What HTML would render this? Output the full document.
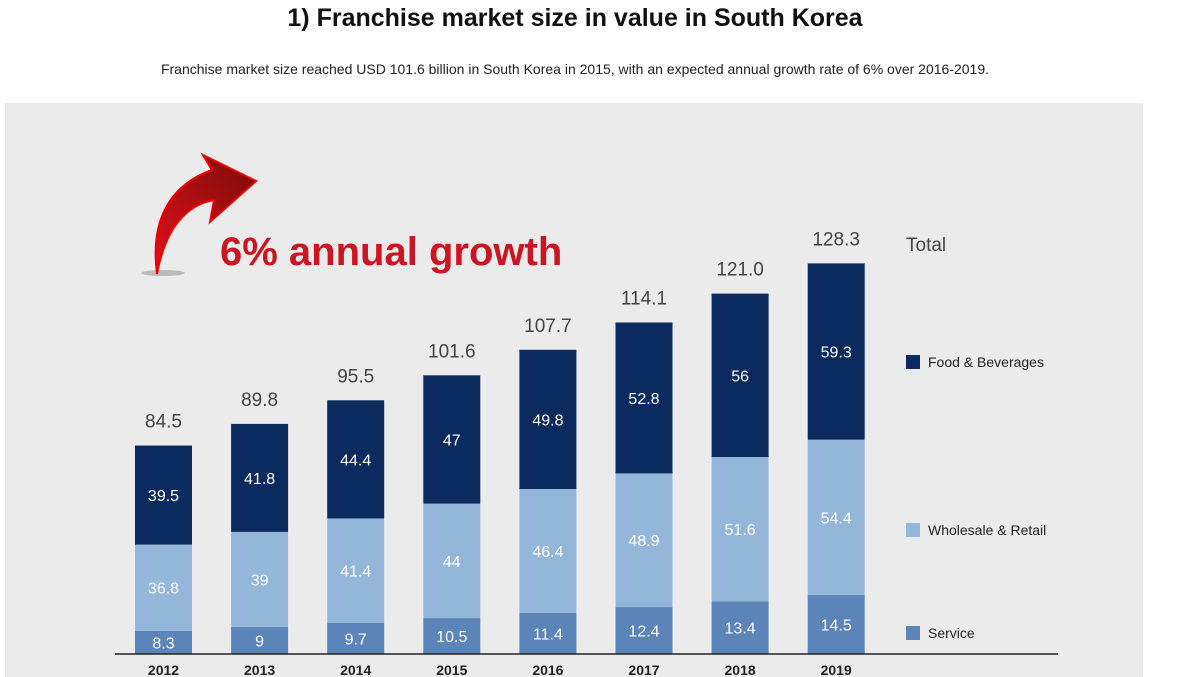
<!DOCTYPE html>
<html><head><meta charset="utf-8"><style>
body{margin:0;width:1192px;height:677px;background:#fff;overflow:hidden;font-family:"Liberation Sans",sans-serif}
#title{position:absolute;left:0;width:1150px;top:4px;text-align:center;font-size:25px;font-weight:bold;color:#111}
#sub{position:absolute;left:0;width:1150px;top:61px;text-align:center;font-size:14px;color:#222}
#panel{position:absolute;left:5px;top:103px;width:1138px;height:574px;background:#ebebeb}
svg{position:absolute;left:0;top:0}
</style></head><body>
<div id="title">1) Franchise market size in value in South Korea</div>
<div id="sub">Franchise market size reached USD 101.6 billion in South Korea in 2015, with an expected annual growth rate of 6% over 2016-2019.</div>
<div id="panel"></div>
<svg id="chart" width="1192" height="677">
<defs><linearGradient id="ag" x1="0" y1="1" x2="1" y2="0"><stop offset="0" stop-color="#e0101a"/><stop offset="1" stop-color="#7a0c08"/></linearGradient></defs>
<ellipse cx="163" cy="273" rx="22" ry="3" fill="#bbb"/>
<path d="M157,274 C150,220 170,185 212,170 L203,155 L256,181 L210,222 L214,200 C185,205 165,230 157,274 Z" fill="url(#ag)" stroke="#e00" stroke-width="2"/>
<text x="220" y="265" font-size="40" font-weight="bold" fill="#cc1522">6% annual growth</text>
<g id="bars"></g>
</svg>
<script>
const years=["2012","2013","2014","2015","2016","2017","2018","2019"];
const service=[8.3,9,9.7,10.5,11.4,12.4,13.4,14.5];
const wholesale=[36.8,39,41.4,44,46.4,48.9,51.6,54.4];
const food=[39.5,41.8,44.4,47,49.8,52.8,56,59.3];
const totals=["84.5","89.8","95.5","101.6","107.7","114.1","121.0","128.3"];
const base=654,bw=57;
function xPos(i){return 135+i*96.1;}
function hService(v){return 5.8*v-25;}
function hWhole(v){return 3.92*v-58;}
function hFood(v){return 3.9*v-55;}
const g=document.getElementById('bars');
const NS="http://www.w3.org/2000/svg";
function mk(t,a){const e=document.createElementNS(NS,t);for(const k in a)e.setAttribute(k,a[k]);g.appendChild(e);return e;}
const series=[{d:service,h:hService,c:"#5b84b8",n:"service"},{d:wholesale,h:hWhole,c:"#93b6da",n:"wholesale"},{d:food,h:hFood,c:"#0b2a5e",n:"food"}];
years.forEach((y,i)=>{
  let top=base;const x=xPos(i);
  series.forEach(s=>{
    const h=s.h(s.d[i]);top-=h;
    const r=mk('rect',{x:x,y:top,width:bw,height:h,fill:s.c});
    
    
    const t=mk('text',{x:x+bw/2,y:top+h/2+6,'text-anchor':'middle','font-size':16,fill:'#fff'});
    t.textContent=s.d[i];
    
    
  });
  const tt=mk('text',{x:x+bw/2,y:top-18,'text-anchor':'middle','font-size':19,fill:'#444'});
  tt.textContent=totals[i];
  
  
  const yl=mk('text',{x:x+bw/2,y:675,'text-anchor':'middle','font-size':14,'font-weight':'bold',fill:'#222'});
  yl.textContent=y;
  
  
});
const ax=mk('line',{x1:115,x2:1058,y1:654,y2:654,stroke:'#222','stroke-width':1.5});


const tl=mk('text',{x:906,y:251,'font-size':19,fill:'#444'});tl.textContent="Total";


const leg=[["Food & Beverages","#0b2a5e",362],["Wholesale & Retail","#93b6da",530],["Service","#5b84b8",633]];
leg.forEach(l=>{
  const r=mk('rect',{x:906,y:l[2]-7,width:14,height:14,fill:l[1]});
  
  
  const t=mk('text',{x:928,y:l[2]+5,'font-size':14,fill:'#222'});t.textContent=l[0];
  
  
});
</script>
</body></html>
